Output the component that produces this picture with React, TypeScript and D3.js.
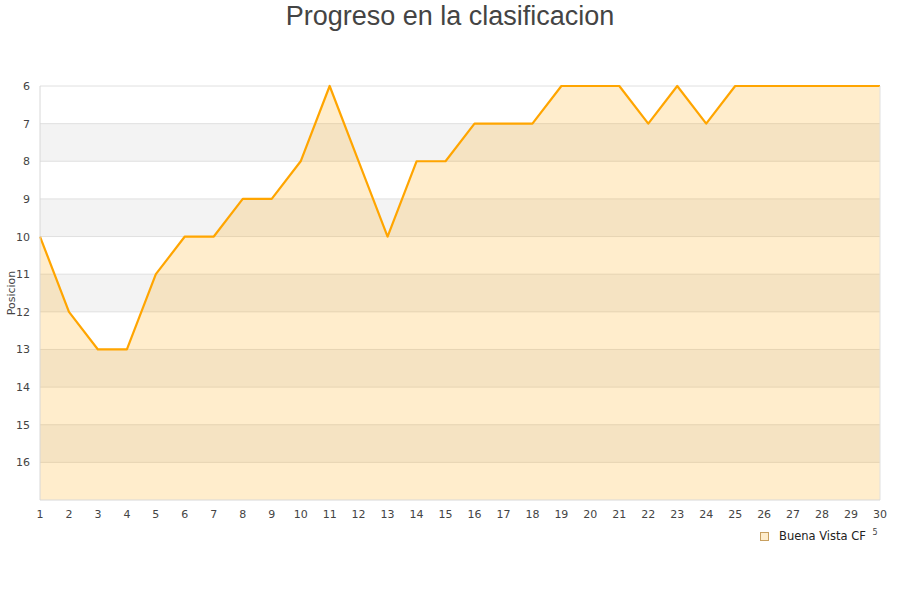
import React from 'react'
import * as d3 from 'd3'

// jornadas y posicion del equipo
const jornadas = d3.range(1, 31)
const posiciones = [10, 12, 13, 13, 11, 10, 10, 9, 9, 8, 6, 8, 10, 8, 8, 7, 7, 7, 6, 6, 6, 7, 6, 7, 6, 6, 6, 6, 6, 6]
const yTicks = [6, 7, 8, 9, 10, 11, 12, 13, 14, 15, 16]
const equipo = 'Buena Vista CF'

export default function App() {
	const width = 900
	const height = 600
	const margin = { top: 86, right: 20, bottom: 100, left: 40 }

	const x = d3.scaleLinear().domain([1, 30]).range([margin.left, width - margin.right])
	const y = d3.scaleLinear().domain([6, 17]).range([margin.top, height - margin.bottom])

	const data = jornadas.map((j, i) => ({ j, p: posiciones[i] }))
	const line = d3.line<{ j: number, p: number }>().x(d => x(d.j)).y(d => y(d.p))
	const area = d3.area<{ j: number, p: number }>().x(d => x(d.j)).y0(y(17)).y1(d => y(d.p))

	const bands = d3.range(7, 17, 2)
	const font = 'DejaVu Sans, sans-serif'

	return (
		<svg width={width} height={height} style={{ position: 'absolute', left: 0, top: 0 }} fontFamily={font}>
			<text x={width / 2} y={25} textAnchor="middle" fontSize={27} fill="#444" fontFamily="Liberation Sans, Arial, sans-serif">Progreso en la clasificacion</text>

			{bands.map(b => (
				<rect key={b} x={x(1)} y={y(b)} width={x(30) - x(1)} height={y(b + 1) - y(b)} fill="#f3f3f3" />
			))}
			{yTicks.map(t => (
				<line key={t} x1={x(1)} x2={x(30)} y1={y(t)} y2={y(t)} stroke="#e0e0e0" strokeWidth={1} />
			))}

			<path d={area(data) as string} fill="rgba(255,165,0,0.2)" />
			<path d={line(data) as string} fill="none" stroke="#ffa500" strokeWidth={2.2} strokeLinejoin="round" />

			<line x1={x(1)} x2={x(1)} y1={y(6)} y2={y(17)} stroke="#d8d8d8" />
			<line x1={x(30)} x2={x(30)} y1={y(6)} y2={y(17)} stroke="#e0e0e0" />
			<line x1={x(1)} x2={x(30)} y1={y(17)} y2={y(17)} stroke="#d8d8d8" />

			{yTicks.map(t => (
				<text key={t} x={30} y={y(t) + 4} textAnchor="end" fontSize={11} fill="#444">{t}</text>
			))}
			{jornadas.map(j => (
				<text key={j} x={x(j)} y={518} textAnchor="middle" fontSize={11} fill="#444">{j}</text>
			))}

			<text transform={`translate(15,${(y(6) + y(17)) / 2}) rotate(-90)`} textAnchor="middle" fontSize={11} fill="#444">Posicion</text>

			<rect x={760.5} y={532.5} width={8} height={8} fill="#ffedcc" stroke="#c8a060" />
			<text x={779} y={540} fontSize={11.5} fill="#222">{equipo}</text>
			<text x={875} y={535} textAnchor="middle" fontSize={8} fill="#444">5</text>
		</svg>
	)
}
